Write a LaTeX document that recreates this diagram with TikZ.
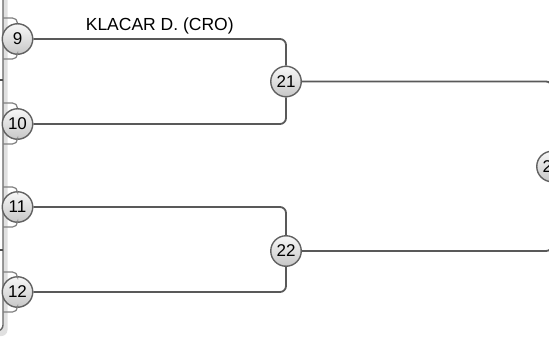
\documentclass[tikz,border=0pt]{standalone}
\usepackage{fontspec}
\setmainfont{Liberation Sans}
\usetikzlibrary{positioning}

\begin{document}
\begin{tikzpicture}[x=1pt,y=-1pt,
  seed/.style={draw=black!62,circle,line width=1.4pt,minimum size=30.5pt,inner sep=0pt,
    top color=black!3,bottom color=black!22,font=\fontsize{17}{17}\selectfont},
  link/.style={draw=black!65,line width=1.8pt,rounded corners=6pt},
  stub/.style={draw=black!50,line width=1.2pt,rounded corners=5pt},
  player/.style={draw=none,inner sep=1pt,font=\fontsize{17.5}{18}\selectfont}]
  \useasboundingbox (0,0) rectangle (549,343);

  % left panel
  \fill[black!12,rounded corners=6pt] (-20,-10) rectangle (7.5,336);
  \draw[black!60,line width=1.4pt,fill=white,rounded corners=6pt] (-20,-10) rectangle (3,331);
  \draw[black!70,line width=1.2pt] (0,80)--(3,80);
  \draw[black!70,line width=1.2pt] (0,250)--(3,250);

  \coordinate (a9) at (3,18);
  \coordinate (b9) at (3,59);
  \coordinate (a10) at (3,103);
  \coordinate (b10) at (3,144);
  \coordinate (a11) at (3,187);
  \coordinate (b11) at (3,227);
  \coordinate (a12) at (3,272);
  \coordinate (b12) at (3,312);

  \node[seed] (9) at (17.5,39) {9};
  \node[seed] (10) at (17.5,124) {10};
  \node[seed] (11) at (17.5,207) {11};
  \node[seed] (12) at (17.5,292) {12};

  \node[seed] (21) at (286,81.5) {21};
  \node[seed] (22) at (286,251) {22};
  \node[seed] (27) at (552,166.5) {27};

  \foreach \s in {9,10,11,12}{
    \draw[stub] (a\s) -| (\s);
    \draw[stub] (b\s) -| (\s);
  }

  \draw[link] (9) -| node[player,pos=0.25,above=3pt]{KLACAR D. (CRO)} (21);
  \draw[link] (10) -| (21);
  \draw[link] (11) -| (22);
  \draw[link] (12) -| (22);
  \draw[link] (21) -| (27);
  \draw[link] (22) -| (27);
\end{tikzpicture}
\end{document}
